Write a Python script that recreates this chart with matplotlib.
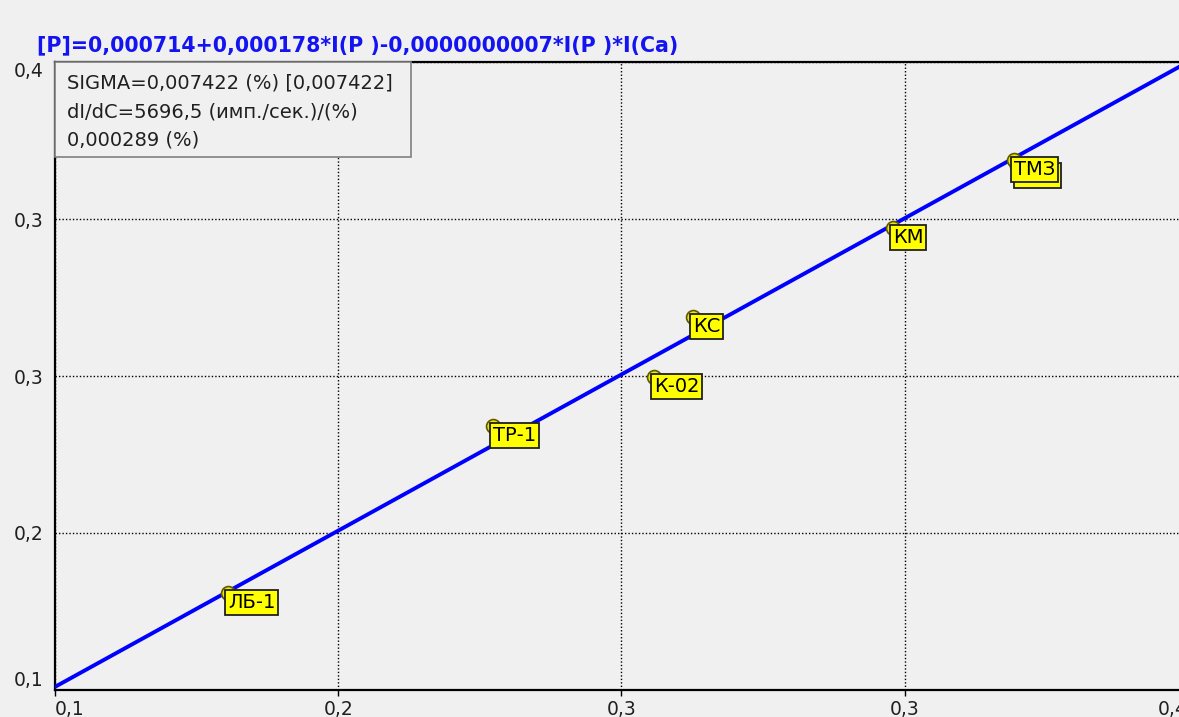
"""Calibration chart for phosphorus: certified vs measured content."""

import matplotlib
matplotlib.use("Agg")
import matplotlib.pyplot as plt
from matplotlib.patches import Rectangle

BG = "#F0F0F0"
TEXT = "#202020"
LINE_BLUE = "#0000FF"

# standard samples: certified content (x) and measured content (y), %
sample_names = ["ЛБ-1", "ТР-1", "КС", "К-02", "КМ", "ТМЗ", "ТМЗ"]
certified = [0.1458, 0.2160, 0.2689, 0.2586, 0.3219, 0.3547, 0.3539]
measured = [0.1463, 0.2261, 0.2782, 0.2495, 0.3207, 0.3504, 0.3532]

# regression line ends
fit_x = [0.1, 0.4]
fit_y = [0.1015, 0.4]

ticks = [0.1, 0.175, 0.25, 0.325, 0.4]
tick_labels = ["0,1", "0,2", "0,3", "0,3", "0,4"]

title = "[P]=0,000714+0,000178*I(P )-0,0000000007*I(P )*I(Ca)"
info_lines = [
    "SIGMA=0,007422 (%) [0,007422]",
    "dI/dC=5696,5 (имп./сек.)/(%)",
    "0,000289 (%)",
]

plt.rcParams["font.family"] = ["DejaVu Sans"]

fig = plt.figure(figsize=(11.79, 7.17), dpi=100)
fig.patch.set_facecolor(BG)
ax = fig.add_axes([55 / 1179, 27 / 717, 1133 / 1179, 628 / 717])
ax.set_facecolor(BG)

ax.set_xlim(0.1, 0.4)
ax.set_ylim(0.1, 0.4)

for side in ["left", "bottom", "top", "right"]:
    ax.spines[side].set_color("black")
    ax.spines[side].set_linewidth(1.6)

ax.set_xticks(ticks)
ax.set_xticklabels(tick_labels)
ax.set_yticks(ticks)
ax.set_yticklabels(tick_labels)
ax.tick_params(axis="both", length=4, width=1, color="black",
               labelsize=13.5, labelcolor=TEXT)
ax.tick_params(axis="x", pad=3)
ax.tick_params(axis="y", pad=8, length=0)

xl = ax.get_xticklabels()
xl[0].set_ha("left")
xl[-1].set_ha("right")
yl = ax.get_yticklabels()
yl[0].set_va("bottom")
yl[-1].set_va("top")

ax.grid(True, color="black", linestyle=(0, (1, 1.5)), linewidth=1)

ax.plot(fit_x, fit_y, color=LINE_BLUE, linewidth=2.8, zorder=3)

# marker + label pairs, each drawn over the previous one
for i, (name, x, y) in enumerate(zip(sample_names, certified, measured)):
    ax.scatter([x], [y], s=100, color="#F2E600", edgecolor="#5E5A00",
               linewidth=1.2, zorder=4 + 2 * i)
    ax.annotate(name, (x, y), xytext=(0, 0), textcoords="offset points",
                ha="left", va="top", fontsize=14, color="black",
                zorder=5 + 2 * i,
                bbox=dict(boxstyle="square,pad=0.14", fc="#FFFF00",
                          ec="#202020", lw=1.3))

# info box in the upper-left corner
ax.add_patch(Rectangle((0, 1 - 95 / 628), 356 / 1133, 95 / 628,
                       transform=ax.transAxes, facecolor=BG,
                       edgecolor="#808080", linewidth=1.2, zorder=30,
                       clip_on=False))
for i, line in enumerate(info_lines):
    ax.text(12 / 1133, 1 - (21 + 28.5 * i) / 628, line, transform=ax.transAxes,
            ha="left", va="center", fontsize=14, color=TEXT, zorder=31)

fig.text(37 / 1179, 1 - 45 / 717, title, ha="left", va="center",
         fontsize=14.8, fontweight="bold", color="#1414F0")

fig.savefig("out.png", dpi=100, facecolor=BG)
